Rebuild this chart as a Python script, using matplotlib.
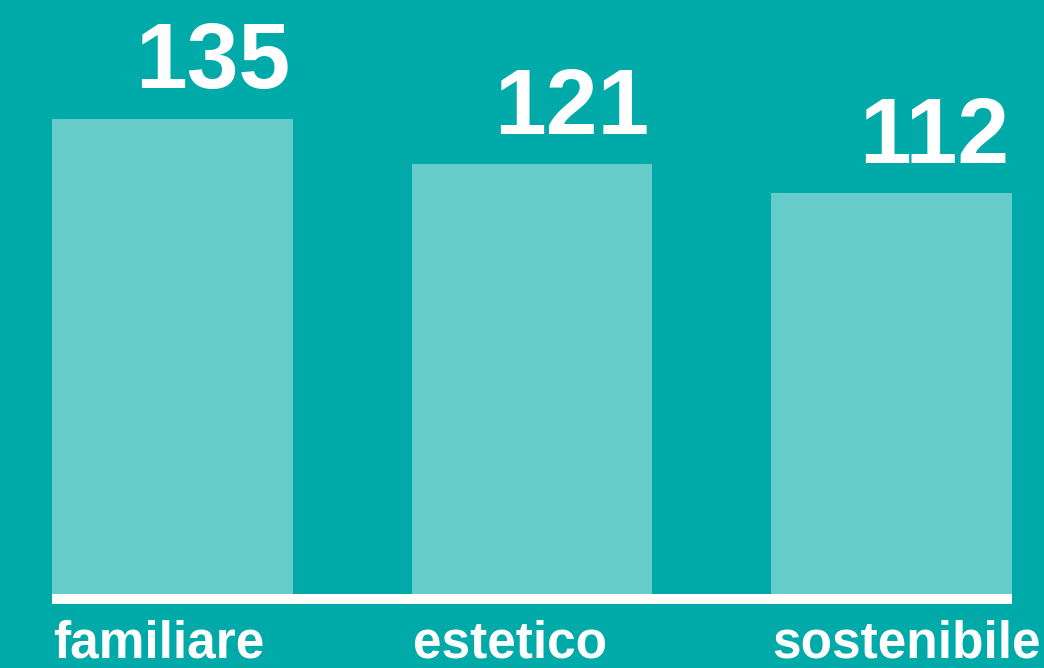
import numpy as np
import matplotlib.pyplot as plt

plt.rcParams['font.family'] = ['Liberation Sans', 'DejaVu Sans']

categorie = ['familiare', 'estetico', 'sostenibile']
valori = [135, 121, 112]

sfondo = '#00AAA9'
colore_barre = '#66CCCA'

fig = plt.figure(figsize=(10.44, 6.68), dpi=100, facecolor=sfondo)
ax = fig.add_axes([52 / 1044, 74 / 668, 960 / 1044, 594 / 668])
ax.set_facecolor(sfondo)

larghezza = 241 / 360
base = -11.3
x = np.arange(len(categorie))
ax.bar(x, np.array(valori) - base, bottom=base, width=larghezza,
       color=colore_barre, linewidth=0)

ax.set_xlim(-larghezza / 2, len(categorie) - 1 + larghezza / 2)
ax.set_ylim(base, 171.5)

# valori sopra le barre, allineati a destra
for xi, v in zip(x, valori):
    ax.annotate(str(v), xy=(xi + larghezza / 2, v), xytext=(-2, 22),
                textcoords='offset points', ha='right', va='baseline',
                fontsize=67, fontweight='bold', color='white')

# etichette sotto la linea, allineate a sinistra
for xi, nome in zip(x, categorie):
    ax.annotate(nome, xy=(xi - larghezza / 2, base), xytext=(1, -46),
                textcoords='offset points', ha='left', va='baseline',
                fontsize=37, fontweight='bold', color='white',
                annotation_clip=False)

for lato in ['top', 'left', 'right']:
    ax.spines[lato].set_visible(False)
ax.spines['bottom'].set_color('white')
ax.spines['bottom'].set_linewidth(7.2)
ax.spines['bottom'].set_position(('outward', 3.6))
ax.spines['bottom'].set_capstyle('butt')
ax.set_xticks([])
ax.set_yticks([])

fig.savefig('out.png', dpi=100, facecolor=sfondo)
